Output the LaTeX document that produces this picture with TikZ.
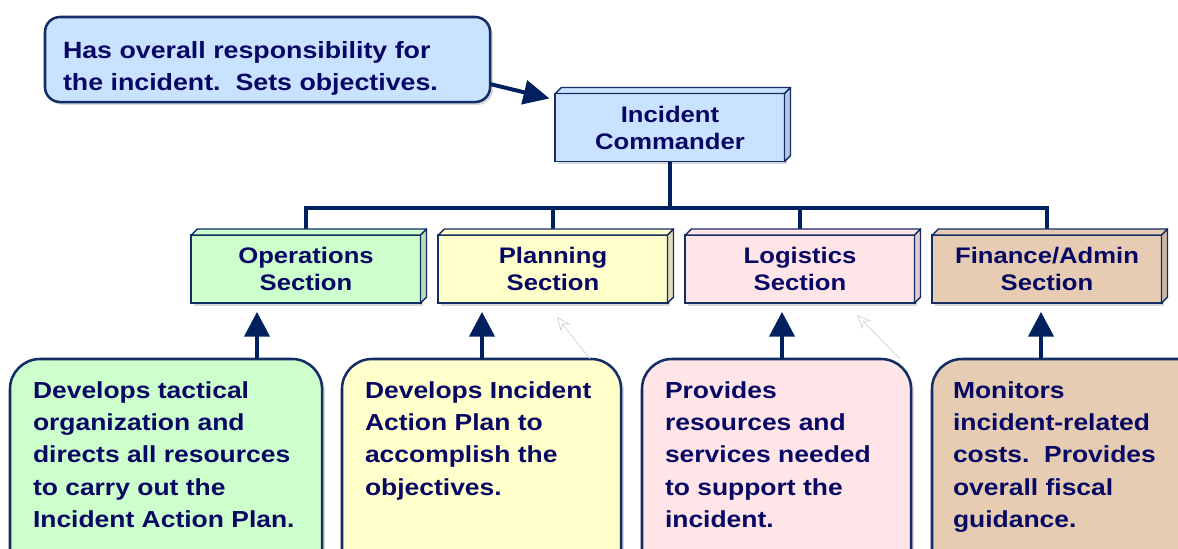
\documentclass[tikz,border=0pt]{standalone}
\usepackage{fontspec}
\setmainfont[FakeStretch=1.14]{Liberation Sans}
\usepackage{tikz}
\usetikzlibrary{arrows.meta,positioning,shadows}
\definecolor{colorline}{RGB}{0,32,96}
\definecolor{colortext}{RGB}{8,8,100}
\definecolor{colorborder}{RGB}{20,45,100}
\definecolor{colorcmd}{RGB}{200,226,255}
\definecolor{colorops}{RGB}{204,255,204}
\definecolor{colorplan}{RGB}{255,255,204}
\definecolor{colorlog}{RGB}{255,228,232}
\definecolor{colorfin}{RGB}{230,204,178}
\newcommand{\unitfont}{\bfseries\fontsize{16}{19.2}\selectfont}
\newcommand{\notefont}{\bfseries\fontsize{16.5}{22.8}\selectfont}
\newcommand{\calloutfont}{\bfseries\fontsize{16.7}{22.8}\selectfont}
\tikzstyle{every node}=[text=colortext, outer sep=0pt]
\tikzstyle{unit}=[rectangle, draw=colorborder, line width=1.4pt, minimum width=5.725cm, minimum height=1.7cm, inner sep=0pt, align=center, font=\unitfont, drop shadow={shadow xshift=2pt, shadow yshift=-2pt, opacity=0.3}]
\tikzstyle{note}=[rectangle, rounded corners=0.75cm, draw=colorborder, line width=1.8pt, anchor=north west, minimum height=5.525cm, drop shadow={shadow xshift=2pt, shadow yshift=-2pt, opacity=0.3}]
\tikzstyle{notetext}=[anchor=north west, inner sep=0pt, align=left, font=\notefont]
\tikzstyle{face}=[draw=colorborder, line width=1pt, line join=round]
\tikzstyle{tree}=[colorline, line width=2.2pt]
\tikzstyle{feed}=[colorline, line width=3.3pt, -{Triangle[length=0.62cm, width=0.62cm]}]
\tikzstyle{ghost}=[black!18, line width=0.5pt, -{Stealth[open, length=0.35cm, width=0.3cm]}]

\begin{document}
\begin{tikzpicture}[x=0.025cm, y=-0.025cm]

		\path[use as bounding box, fill=white] (0,0) rectangle (1178,548);
		\clip (0,0) rectangle (1178,548);

		% command and sections
		\node[unit, fill=colorcmd] at (670, 127.5) (cmd) {Incident\\Commander};

		\node[unit, fill=colorops] at (306, 269) (opsec) {Operations\\Section};

		\node[unit, fill=colorplan] at (553, 269) (plansec) {Planning\\Section};

		\node[unit, fill=colorlog] at (800, 269) (logsec) {Logistics\\Section};

		\node[unit, fill=colorfin] at (1047, 269) (finsec) {Finance/Admin\\Section};

		\coordinate (bus) at (670, 208);
		\draw[tree] (cmd.south) -- (bus);
		\draw[tree] ([yshift=0.15cm]opsec.north) |- (bus) -| ([yshift=0.15cm]finsec.north);
		\draw[tree] ([yshift=0.15cm]plansec.north) -- (plansec.north |- bus);
		\draw[tree] ([yshift=0.15cm]logsec.north) -- (logsec.north |- bus);

		\foreach \n/\c in {cmd/colorcmd, opsec/colorops, plansec/colorplan, logsec/colorlog, finsec/colorfin}{
			\draw[face, fill=\c] (\n.north west) -- ++(6,-6) -- ([shift={(6,-6)}]\n.north east) -- (\n.north east) -- cycle;
			\draw[face, fill=\c!75!gray] (\n.north east) -- ++(6,-6) -- ([shift={(6,-6)}]\n.south east) -- (\n.south east) -- cycle;
		}

		% callout
		\node[note, rounded corners=0.375cm, fill=colorcmd, minimum width=11.125cm, minimum height=2.125cm] at (45, 17) (callout) {};
		\node[notetext, font=\calloutfont] at ([shift={(18,24)}]callout.north west) (callouttext) {Has overall responsibility for\\the incident.\ \ Sets objectives.};
		\draw[feed, line width=2.8pt, -{Triangle[length=0.65cm, width=0.6cm]}] ([yshift=0.45cm]callout.south east) -- ([shift={(-6,5)}]cmd.north west);

		% notes
		\node[note, fill=colorops, minimum width=7.8cm] at (10, 359) (opsnote) {};
		\node[notetext] at ([shift={(23,23)}]opsnote.north west) (opstext) {Develops tactical\\organization and\\directs all resources\\to carry out the\\Incident Action Plan.};

		\node[note, fill=colorplan, minimum width=6.975cm] at (342, 359) (plannote) {};
		\node[notetext] at ([shift={(23,23)}]plannote.north west) (plantext) {Develops Incident\\Action Plan to\\accomplish the\\objectives.};

		\node[note, fill=colorlog, minimum width=6.725cm] at (642, 359) (lognote) {};
		\node[notetext] at ([shift={(23,23)}]lognote.north west) (logtext) {Provides\\resources and\\services needed\\to support the\\incident.};

		\node[note, fill=colorfin, minimum width=7cm] at (932, 359) (finnote) {};
		\node[notetext] at ([shift={(21,23)}]finnote.north west) (fintext) {Monitors\\incident-related\\costs.\ \ Provides\\overall fiscal\\guidance.};

		\draw[feed] (opsnote.north -| 257,0) -- ([yshift=-0.22cm]opsec.south -| 257,0);
		\draw[feed] (plannote.north -| 482,0) -- ([yshift=-0.22cm]plansec.south -| 482,0);
		\draw[feed] (lognote.north -| 782,0) -- ([yshift=-0.22cm]logsec.south -| 782,0);
		\draw[feed] (finnote.north -| 1041,0) -- ([yshift=-0.22cm]finsec.south -| 1041,0);

		\coordinate (planghost) at (557, 317);
		\coordinate (logghost) at (857, 315);
		\draw[ghost] (plannote.north -| 590,0) -- (planghost);
		\draw[ghost] (lognote.north -| 900,0) -- (logghost);

\end{tikzpicture}
\end{document}
